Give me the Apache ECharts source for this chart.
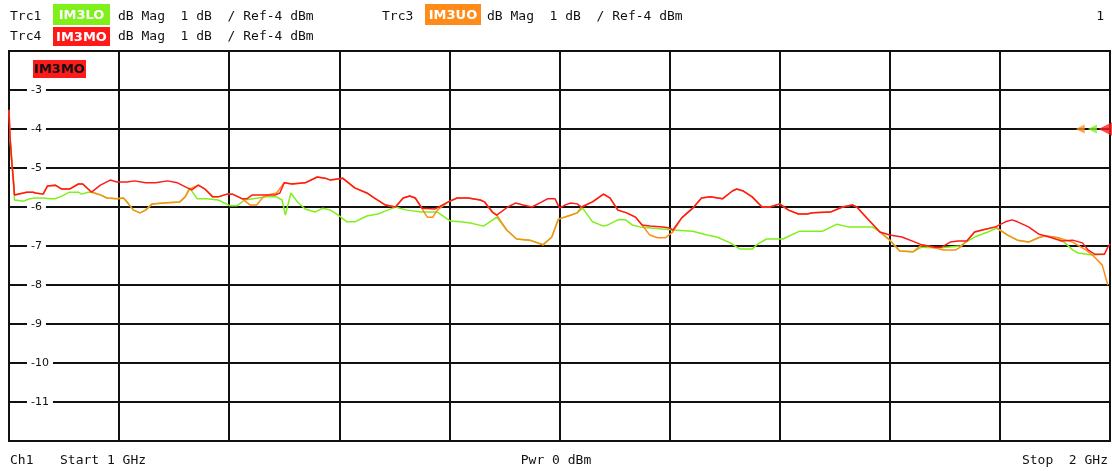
<!DOCTYPE html>
<html>
<head>
<meta charset="utf-8">
<script src="https://cdn.jsdelivr.net/npm/echarts@6/dist/echarts.min.js"></script>
<style>
  html, body {margin: 0; padding: 0; background: #fff;}
  #chart {width: 1112px; height: 471px;}
</style>
</head>
<body>
<div id="chart"></div>
<script>
// traces: [frequency MHz, level dB]
const im3lo = [
  [1001,-4.23],[1002,-4.74],[1004,-5.23],[1005,-5.82],[1013,-5.85],[1019,-5.79],[1024,-5.77],[1031,-5.77],
  [1037,-5.79],[1042,-5.79],[1048,-5.72],[1055,-5.62],[1063,-5.62],[1066,-5.67],[1072,-5.62],[1076,-5.62],
  [1083,-5.69],[1089,-5.77],[1098,-5.79],[1104,-5.77],[1108,-5.90],[1113,-6.08],[1119,-6.15],[1124,-6.08],
  [1130,-5.92],[1140,-5.90],[1155,-5.87],[1160,-5.74],[1164,-5.51],[1171,-5.79],[1180,-5.79],[1190,-5.82],
  [1201,-5.97],[1207,-5.97],[1214,-5.82],[1234,-5.74],[1243,-5.74],[1248,-5.82],[1251,-6.21],[1256,-5.64],
  [1262,-5.87],[1269,-6.05],[1278,-6.13],[1285,-6.03],[1292,-6.08],[1299,-6.21],[1307,-6.38],[1314,-6.38],
  [1325,-6.23],[1335,-6.18],[1344,-6.08],[1351,-6.0],[1361,-6.08],[1375,-6.13],[1389,-6.13],[1401,-6.36],
  [1410,-6.38],[1419,-6.41],[1431,-6.49],[1443,-6.26],[1452,-6.59],[1461,-6.82],[1473,-6.85],[1485,-6.97],
  [1493,-6.77],[1499,-6.31],[1510,-6.21],[1516,-6.15],[1521,-6.03],[1530,-6.38],[1540,-6.49],[1544,-6.46],
  [1553,-6.33],[1560,-6.33],[1566,-6.46],[1573,-6.51],[1603,-6.59],[1621,-6.62],[1634,-6.72],[1643,-6.77],
  [1655,-6.92],[1664,-7.08],[1675,-7.08],[1680,-6.95],[1688,-6.82],[1703,-6.82],[1718,-6.62],[1739,-6.62],
  [1752,-6.44],[1762,-6.51],[1784,-6.51],[1791,-6.64],[1800,-6.85],[1809,-7.13],[1821,-7.15],[1829,-7.03],
  [1844,-7.05],[1864,-7.0],[1868,-6.92],[1877,-6.77],[1889,-6.64],[1897,-6.54],[1907,-6.72],[1916,-6.85],
  [1926,-6.90],[1935,-6.79],[1941,-6.74],[1953,-6.79],[1959,-6.92],[1966,-7.10],[1971,-7.18],[1984,-7.23],
  [1995,-7.21]
];

const im3uo = [
  [1000,-3.51],[1001,-4.23],[1003,-5.0],[1005,-5.69],[1013,-5.64],[1016,-5.62],[1022,-5.62],[1024,-5.64],
  [1031,-5.67],[1035,-5.46],[1042,-5.44],[1048,-5.54],[1055,-5.54],[1063,-5.41],[1067,-5.41],[1075,-5.62],
  [1083,-5.69],[1089,-5.77],[1098,-5.79],[1104,-5.77],[1108,-5.90],[1113,-6.08],[1119,-6.15],[1124,-6.08],
  [1130,-5.92],[1140,-5.90],[1155,-5.87],[1160,-5.74],[1164,-5.54],[1172,-5.44],[1178,-5.54],[1185,-5.74],
  [1190,-5.74],[1198,-5.67],[1203,-5.67],[1212,-5.79],[1219,-5.95],[1225,-5.95],[1231,-5.74],[1235,-5.69],
  [1243,-5.64],[1250,-5.38],[1257,-5.41],[1269,-5.38],[1280,-5.23],[1287,-5.26],[1292,-5.31],[1303,-5.26],
  [1314,-5.51],[1325,-5.64],[1332,-5.77],[1342,-5.95],[1351,-6.0],[1358,-5.77],[1364,-5.72],[1369,-5.77],
  [1375,-6.03],[1377,-6.13],[1380,-6.26],[1385,-6.26],[1389,-6.08],[1399,-5.87],[1407,-5.77],[1417,-5.77],
  [1428,-5.82],[1432,-5.87],[1439,-6.13],[1443,-6.21],[1452,-6.59],[1461,-6.82],[1473,-6.85],[1485,-6.97],
  [1493,-6.77],[1499,-6.31],[1510,-6.21],[1516,-6.15],[1520,-6.0],[1530,-5.87],[1540,-5.67],[1546,-5.77],
  [1553,-6.08],[1561,-6.15],[1569,-6.26],[1575,-6.46],[1582,-6.72],[1589,-6.79],[1596,-6.79],[1603,-6.64],
  [1611,-6.28],[1621,-6.03],[1629,-5.77],[1637,-5.74],[1648,-5.79],[1657,-5.59],[1661,-5.54],[1667,-5.59],
  [1675,-5.74],[1684,-6.0],[1691,-6.0],[1700,-5.92],[1708,-6.08],[1717,-6.18],[1725,-6.18],[1730,-6.15],
  [1746,-6.13],[1757,-6.0],[1766,-5.95],[1770,-6.0],[1780,-6.31],[1791,-6.64],[1800,-6.85],[1809,-7.13],
  [1821,-7.15],[1829,-6.97],[1849,-7.10],[1860,-7.10],[1864,-7.03],[1870,-6.87],[1877,-6.64],[1884,-6.59],
  [1896,-6.51],[1907,-6.72],[1916,-6.85],[1926,-6.90],[1935,-6.79],[1941,-6.74],[1953,-6.79],[1966,-6.90],
  [1978,-7.10],[1984,-7.23],[1993,-7.49],[1998,-8.0]
];

const im3mo = [
  [1000,-3.51],[1001,-4.23],[1003,-5.0],[1005,-5.69],[1013,-5.64],[1016,-5.62],[1022,-5.62],[1024,-5.64],
  [1031,-5.67],[1035,-5.46],[1042,-5.44],[1048,-5.54],[1055,-5.54],[1063,-5.41],[1067,-5.41],[1075,-5.62],
  [1083,-5.44],[1092,-5.31],[1098,-5.36],[1107,-5.36],[1114,-5.33],[1124,-5.38],[1133,-5.38],[1144,-5.33],
  [1153,-5.38],[1162,-5.51],[1166,-5.56],[1172,-5.44],[1178,-5.54],[1185,-5.74],[1190,-5.74],[1198,-5.67],
  [1203,-5.67],[1212,-5.79],[1216,-5.79],[1221,-5.69],[1231,-5.69],[1242,-5.69],[1246,-5.64],[1250,-5.38],
  [1257,-5.41],[1269,-5.38],[1280,-5.23],[1287,-5.26],[1292,-5.31],[1303,-5.26],[1314,-5.51],[1325,-5.64],
  [1332,-5.77],[1342,-5.95],[1351,-6.0],[1358,-5.77],[1364,-5.72],[1369,-5.77],[1375,-6.03],[1387,-6.05],
  [1399,-5.87],[1407,-5.77],[1417,-5.77],[1428,-5.82],[1432,-5.87],[1439,-6.13],[1443,-6.21],[1453,-6.0],
  [1460,-5.90],[1467,-5.95],[1475,-6.0],[1484,-5.87],[1489,-5.79],[1496,-5.79],[1500,-6.03],[1505,-5.95],
  [1510,-5.90],[1516,-5.92],[1520,-6.0],[1530,-5.87],[1540,-5.67],[1546,-5.77],[1553,-6.08],[1561,-6.15],
  [1569,-6.26],[1575,-6.46],[1582,-6.49],[1594,-6.51],[1600,-6.54],[1603,-6.59],[1611,-6.28],[1621,-6.03],
  [1629,-5.77],[1637,-5.74],[1648,-5.79],[1657,-5.59],[1661,-5.54],[1667,-5.59],[1675,-5.74],[1684,-6.0],
  [1691,-6.0],[1700,-5.92],[1708,-6.08],[1717,-6.18],[1725,-6.18],[1730,-6.15],[1746,-6.13],[1757,-6.0],
  [1766,-5.95],[1770,-6.0],[1780,-6.31],[1791,-6.64],[1800,-6.72],[1811,-6.77],[1823,-6.90],[1829,-6.97],
  [1841,-7.03],[1847,-7.03],[1855,-6.90],[1862,-6.87],[1870,-6.87],[1877,-6.64],[1884,-6.59],[1896,-6.51],
  [1905,-6.38],[1911,-6.33],[1916,-6.38],[1926,-6.51],[1935,-6.69],[1947,-6.79],[1956,-6.87],[1966,-6.85],
  [1975,-6.92],[1980,-7.10],[1986,-7.21],[1995,-7.21],[1998,-7.03],[2000,-6.95]
];

// reference level arrows at the right edge (Ref -4 dBm)
const refLevel = -4;
const refMarkFreq = [1973, 1984, 1996];

const traceColors = {lo: '#80f01a', uo: '#ff8c1a', mo: '#ff1a1a'};
const mono = 'DejaVu Sans Mono';

const chart = echarts.init(document.getElementById('chart'));

// plain text, x/y = anchor point, vertically centred
function label(x, y, text, align) {
  return {
    type: 'text', x: x, y: y, z: 10,
    style: {text: text, font: '13px "' + mono + '"', fill: '#111', align: align || 'left', verticalAlign: 'middle'}
  };
}
// coloured trace name box
function tag(x, y, w, h, color, text, textColor) {
  return {
    type: 'group', x: x, y: y, z: 10,
    children: [
      {type: 'rect', shape: {x: 0, y: 0, width: w, height: h}, style: {fill: color}},
      {type: 'text', x: w / 2, y: h / 2 + 1,
        style: {text: text, font: 'bold 13px "DejaVu Sans"', fill: textColor, align: 'center', verticalAlign: 'middle'}}
    ]
  };
}

let option = {
  backgroundColor: '#fff',
  animation: false,
  grid: {left: 9, right: 2, top: 51, bottom: 30, show: true, borderColor: '#111', borderWidth: 2},
  xAxis: {
    type: 'value', min: 1000, max: 2000, interval: 100,
    axisLine: {show: false}, axisTick: {show: false}, axisLabel: {show: false},
    splitLine: {show: true, lineStyle: {color: '#111', width: 2}}
  },
  yAxis: {
    type: 'value', min: -12, max: -2, interval: 1,
    axisLine: {show: false}, axisTick: {show: false},
    splitLine: {show: true, lineStyle: {color: '#111', width: 2}},
    axisLabel: {
      inside: true, margin: 18, color: '#111', fontFamily: 'DejaVu Sans', fontSize: 11,
      backgroundColor: '#fff', padding: [1, 4],
      showMinLabel: false, showMaxLabel: false
    },
    z: 3
  },
  series: [
    {name: 'IM3LO', type: 'line', data: im3lo, showSymbol: false, z: 4,
      lineStyle: {color: traceColors.lo, width: 1.5}},
    {name: 'IM3UO', type: 'line', data: im3uo, showSymbol: false, z: 5,
      lineStyle: {color: traceColors.uo, width: 1.5}},
    {name: 'IM3MO', type: 'line', data: im3mo, showSymbol: false, z: 6,
      lineStyle: {color: traceColors.mo, width: 1.5}},
    {name: 'ref', type: 'scatter', z: 7, symbol: 'triangle', symbolRotate: 90,
      data: [
        {value: [refMarkFreq[0], refLevel], symbolSize: 9, itemStyle: {color: traceColors.uo}},
        {value: [refMarkFreq[1], refLevel], symbolSize: 9, itemStyle: {color: traceColors.lo}},
        {value: [refMarkFreq[2], refLevel], symbolSize: 14, itemStyle: {color: traceColors.mo}}
      ]}
  ],
  graphic: [
    label(10, 17, 'Trc1'),
    tag(53, 4, 57, 21, traceColors.lo, 'IM3LO', '#fff'),
    label(118, 17, 'dB Mag  1 dB  / Ref-4 dBm'),
    label(382, 17, 'Trc3'),
    tag(425, 4, 56, 21, traceColors.uo, 'IM3UO', '#fff'),
    label(487, 17, 'dB Mag  1 dB  / Ref-4 dBm'),
    label(1104, 17, '1', 'right'),
    label(10, 37, 'Trc4'),
    tag(53, 27, 57, 19, traceColors.mo, 'IM3MO', '#fff'),
    label(118, 37, 'dB Mag  1 dB  / Ref-4 dBm'),
    tag(33, 60, 53, 18, traceColors.mo, 'IM3MO', '#111'),
    label(10, 461, 'Ch1'),
    label(60, 461, 'Start 1 GHz'),
    label(556, 461, 'Pwr 0 dBm', 'center'),
    label(1108, 461, 'Stop  2 GHz', 'right')
  ]
};

chart.setOption(option);
</script>
</body>
</html>
